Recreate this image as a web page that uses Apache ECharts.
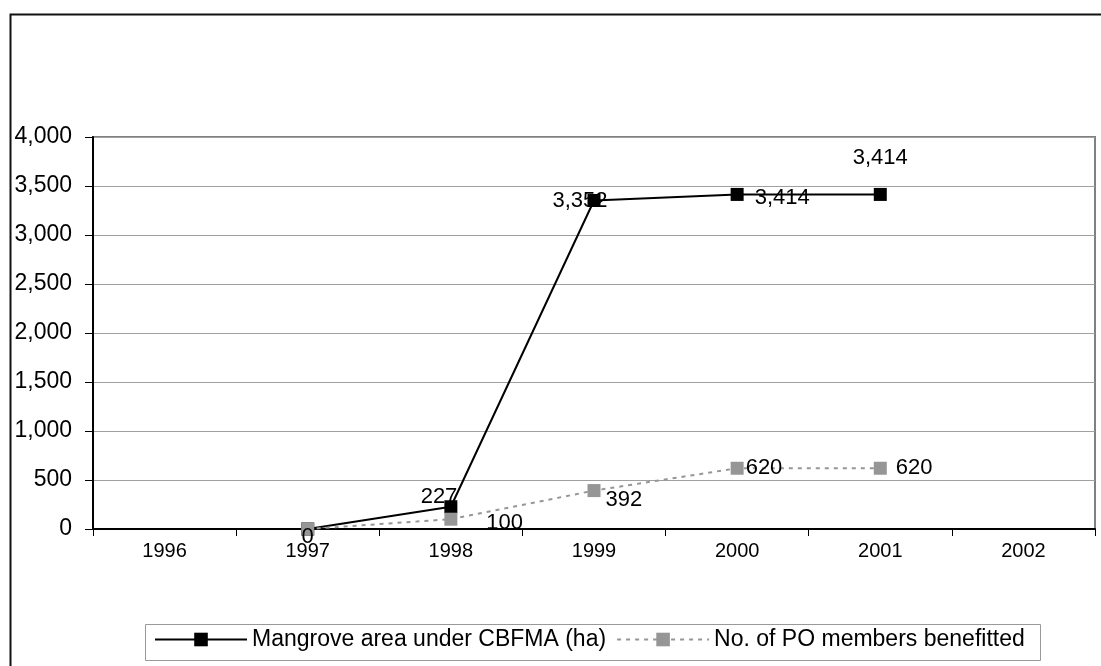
<!DOCTYPE html>
<html>
<head>
<meta charset="utf-8">
<script src="https://cdn.jsdelivr.net/npm/echarts@6/dist/echarts.min.js"></script>
<style>
html,body{margin:0;padding:0;background:#fff;}
#chart{width:1101px;height:666px;}
</style>
</head>
<body>
<div id="chart"></div>
<script>
var years = ['1996', '1997', '1998', '1999', '2000', '2001', '2002'];
var mangroveArea = [null, 0, 227, 3352, 3414, 3414, null];
var poMembers = [null, 0, 100, 392, 620, 620, null];
var seriesNames = ['Mangrove area under CBFMA (ha)', 'No. of PO members benefitted'];

var FONT = 'Liberation Sans, Arial, sans-serif';
function fmt(v) { return Number(v).toLocaleString('en-US'); }

// label placement per index (presentation only)
var mangroveLabelPlace = {
  2: { position: 'left', offset: [18, -10] },
  3: { position: 'left', offset: [25, 0] },
  4: { position: 'right', offset: [6, 4] },
  5: { position: 'top', offset: [0, -14] }
};
var poLabelPlace = {
  1: { position: 'inside', offset: [0, 8] },
  2: { position: 'right', offset: [24, 4] },
  3: { position: 'right', offset: [0, 9] },
  4: { position: 'right', offset: [-3, 0] },
  5: { position: 'right', offset: [4, 0] }
};

function build(values, place) {
  return values.map(function (v, i) {
    if (v === null) return null;
    var p = place[i];
    if (!p) return { value: v, label: { show: false } };
    return { value: v, label: { show: true, position: p.position, offset: p.offset } };
  });
}

var chart = echarts.init(document.getElementById('chart'), null, { renderer: 'canvas' });
chart.setOption({
  animation: false,
  backgroundColor: '#fff',
  textStyle: { fontFamily: FONT },
  graphic: [{
    type: 'rect', left: 8, top: 12, z: 100, silent: true,
    shape: { width: 1200, height: 800 },
    style: { fill: 'none', stroke: '#111', lineWidth: 2 }
  }, {
    type: 'rect', left: 143, top: 622, z: 100, silent: true,
    shape: { width: 895, height: 36 },
    style: { fill: 'none', stroke: '#999', lineWidth: 1 }
  }],
  grid: {
    left: 93, right: 6, top: 137, bottom: 137,
    show: true, borderColor: '#808080', borderWidth: 2, backgroundColor: 'transparent'
  },
  legend: {
    left: 154, top: 628,
    padding: 0,
    itemWidth: 92, itemHeight: 17, itemGap: 10,
    textStyle: { fontFamily: FONT, fontSize: 23, color: '#000' },
    data: seriesNames
  },
  xAxis: {
    type: 'category', data: years, boundaryGap: true,
    axisLine: { lineStyle: { color: '#000', width: 2 } },
    axisTick: { show: true, length: 7, lineStyle: { color: '#000', width: 1 } },
    axisLabel: { color: '#000', fontSize: 20, fontFamily: FONT, margin: 12 },
    splitLine: { show: false }
  },
  yAxis: {
    type: 'value', min: 0, max: 4000, interval: 500,
    axisLine: { show: true, lineStyle: { color: '#000', width: 2 } },
    axisTick: { show: true, length: 8, lineStyle: { color: '#000', width: 1 } },
    axisLabel: { color: '#000', fontSize: 23, fontFamily: FONT, margin: 21, formatter: fmt },
    splitLine: { show: true, lineStyle: { color: '#a0a0a0', width: 1 } }
  },
  series: [{
    name: seriesNames[0], type: 'line',
    data: build(mangroveArea, mangroveLabelPlace),
    symbol: 'rect', symbolSize: 13,
    itemStyle: { color: '#000' },
    lineStyle: { color: '#000', width: 2 },
    label: { color: '#000', fontSize: 22, fontFamily: FONT, formatter: function (p) { return fmt(p.value); } },
    z: 3
  }, {
    name: seriesNames[1], type: 'line',
    data: build(poMembers, poLabelPlace),
    symbol: 'rect', symbolSize: 13,
    itemStyle: { color: '#969696' },
    lineStyle: { color: '#969696', width: 2, type: [4, 5] },
    label: { color: '#000', fontSize: 22, fontFamily: FONT, formatter: function (p) { return fmt(p.value); } },
    z: 4
  }]
});
</script>
</body>
</html>
